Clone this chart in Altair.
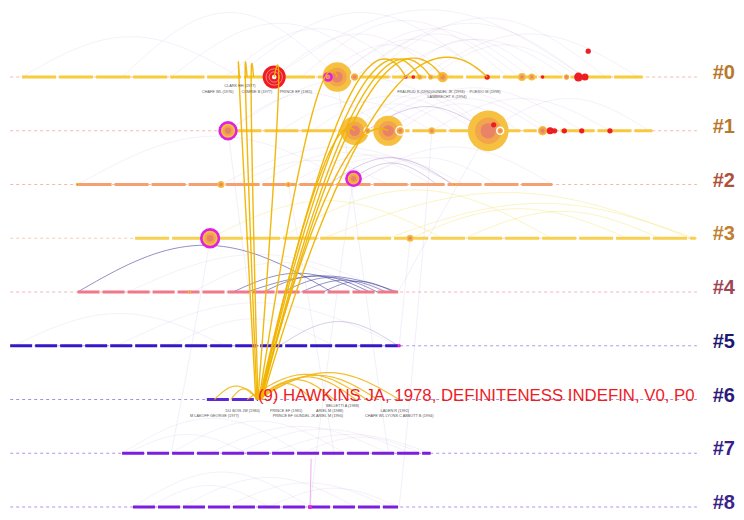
import altair as alt
import pandas as pd
import numpy as np

# ---------------- data ----------------
cluster_rows = [0, 1, 2, 3, 4, 5, 6, 7, 8]
cluster_labels = ["#0", "#1", "#2", "#3", "#4", "#5", "#6", "#7", "#8"]
label_colors = ["#b8782c", "#b8782c", "#b0503a", "#c08030", "#a04555",
                "#1c1870", "#2c1a78", "#3a1c88", "#3a2488"]
line_colors = ["#f8cc3a", "#f8c840", "#f4a070", "#f8d050", "#f07888",
               "#3418c8", "#5a28d8", "#7a1ee0", "#7a1ee0"]
base_colors = ["#f0a898", "#f0a898", "#f0a898", "#f0c0a0", "#f0a0b0",
               "#9088d8", "#8878d0", "#a078e0", "#a078e0"]
span_start = [1956.3, 1975.2, 1961.4, 1966.7, 1961.4, 1955.2, 1973.3, 1965.5, 1966.5]
span_end = [2013.4, 2014.3, 2005.1, 2018.3, 1990.9, 1990.9, 1978.0, 1993.9, 1990.9]
base_start = 1955.2
base_end = 2018.4

# nodes: year, row, citations, kind
node_year = [1979.5, 1985.3, 1984.45, 1986.5, 1986.9, 1991.6, 1992.3, 1992.9, 1993.9, 1995.0,
             1999.1, 2002.3, 2003.2, 2004.2, 2006.4, 2007.5, 2008.1, 2008.4,
             1975.25, 1986.9, 1988.1, 1990.0, 1991.1, 1994.0, 1999.2, 1999.7, 2000.3, 2004.2,
             2004.9, 2005.3, 2006.2, 2007.8, 2010.4,
             1961.4, 1974.6, 1980.8, 1986.8, 1996.1,
             1973.6, 1992.0,
             1971.7,
             1977.8, 1991.0,
             1982.8]
node_row = [0, 0, 0, 0, 0, 0, 0, 0, 0, 0,
            0, 0, 0, 0, 0, 0, 0, -0.48,
            1, 1, 1, 1, 1, 1, 1, 0.89, 1, 1,
            1, 1, 1, 1, 1,
            2, 2, 2, 1.89, 2,
            3, 3,
            4,
            5, 5,
            8]
node_cites = [19.2, 31.6, 1.8, 1.0, 2.8, 0.5, 0.5, 1.0, 1.0, 4.1,
              1.0, 2.3, 1.8, 0.45, 1.8, 2.8, 1.8, 1.0,
              10.2, 29.0, 1.8, 32.8, 2.8, 1.8, 60.0, 1.0, 1.8, 4.1,
              1.8, 1.0, 1.0, 1.0, 1.0,
              0.45, 1.8, 1.0, 7.3, 0.45,
              11.3, 1.8,
              0.45,
              0.45, 0.45,
              0.6]
node_kind = ["burst", "normal", "central", "normal", "ring", "mag", "burst", "normal", "normal", "normal",
             "burst", "normal", "normal", "burst", "ring", "burst", "burst", "burst",
             "central", "normal", "ring", "normal", "ring", "normal", "normal", "burst", "ring", "ring",
             "burst", "burst", "burst", "burst", "burst",
             "normal", "normal", "normal", "central", "normal",
             "central", "normal",
             "normal",
             "mag", "mag",
             "mag"]

# same-row arcs: (row, from year, to year, height in rows)
haze_arcs = [(0, 1956.3, 1976.3, 0.75), (0, 1965.5, 1985.3, 1.2), (0, 1975, 1992, 0.9),
             (0, 1979.5, 1995, 0.8), (0, 1976, 1999, 1.2), (0, 1985.3, 2003, 0.9),
             (0, 1986.9, 2008, 1.0), (0, 1990, 2006.4, 0.7), (0, 1979.5, 2008, 1.25),
             (0, 1992.9, 2013, 0.8), (0, 1985.3, 1999.1, 0.7), (0, 1993.9, 2007.5, 0.6),
             (0, 1982, 2001, 1.05), (0, 1988, 2010, 1.1), (0, 1970, 1990, 1.0),
             (0, 1984, 1996, 0.6), (0, 1987, 2002, 0.8), (0, 1991, 2004, 0.7),
             (1, 1975.25, 1999.2, 1.0), (1, 1986.9, 1999.2, 0.7), (1, 1990, 2004.2, 0.6),
             (1, 1988, 2007.8, 0.8), (1, 1975.25, 1990, 0.7), (1, 1994, 2010.4, 0.6),
             (1, 1999.2, 2014, 0.6), (1, 1980, 1994, 0.55), (1, 1986.9, 2005, 0.75),
             (1, 1983, 1998, 0.65), (1, 1991, 2002, 0.5), (1, 1985, 1996, 0.5),
             (2, 1961.4, 1986.8, 0.9), (2, 1974.6, 1996.1, 0.7), (2, 1980.8, 1996.1, 0.55),
             (2, 1986.8, 2000, 0.5), (2, 1982, 1997, 0.5), (2, 1986.8, 2005.1, 0.7),
             (2, 1976, 1990, 0.45), (2, 1978, 1994, 0.6),
             (4, 1966, 1990, 0.7), (4, 1972, 1988, 0.55),
             (5, 1955.5, 1975, 0.6), (5, 1965, 1990.9, 0.8),
             (5, 1970, 1985, 0.5),
             (7, 1965.5, 1982, 0.65), (7, 1970, 1986, 0.6), (7, 1973.5, 1990, 0.5),
             (7, 1976, 1992, 0.45), (7, 1979, 1993.9, 0.35), (7, 1966, 1977, 0.35),
             (7, 1982, 1993, 0.3),
             (8, 1966.5, 1982.8, 0.65), (8, 1971, 1987, 0.55), (8, 1975, 1990, 0.45),
             (8, 1979, 1990.9, 0.35), (8, 1968, 1979, 0.4)]
purple_arcs = [(2, 1984.5, 1995.9, 0.5), (2, 1986, 1994.5, 0.4), (1, 1988, 1999, 0.45),
               (5, 1980, 1990.9, 0.45)]
yellow_faint_arcs = [(3, 1984, 2017.8, 0.85), (3, 1990, 2018.2, 0.65), (3, 1992, 2012, 0.55),
                     (3, 1973.6, 1995, 0.7), (3, 1997, 2015, 0.5), (3, 1980, 2005, 0.9)]
blue_arcs = [(4, 1961.4, 1984.8, 0.87), (4, 1975.7, 1987.6, 0.35), (4, 1978.5, 1988.3, 0.3),
             (4, 1980.3, 1989, 0.27), (4, 1982, 1989.8, 0.22), (4, 1984, 1990.5, 0.2),
             (4, 1977, 1990.9, 0.3)]
hawkins_arcs = [(6, 1978, 1991, 0.5), (6, 1978, 1989, 0.45), (6, 1978, 1987, 0.42),
                (6, 1978, 1985, 0.37), (6, 1978, 1983, 0.3), (6, 1974, 1978, 0.25),
                (6, 1975.5, 1978, 0.2), (6, 1977, 1988, 0.47)]

# links between clusters: (from year, from row, control year, control row, to year, to row)
hawkins_links = [(1977.8, 6, 1975.8, -1.6, 1976.3, 0), (1977.9, 6, 1976.4, -1.6, 1977.0, 0),
                 (1978.0, 6, 1977.0, -1.5, 1977.6, 0), (1978.0, 6, 1980.8, -1.4, 1979.5, 0),
                 (1978.1, 6, 1983.5, -1.0, 1985.3, 0), (1978.2, 6, 1986.8, -1.8, 1991.6, 0),
                 (1978.2, 6, 1987.3, -1.8, 1992.9, 0), (1978.3, 6, 1987.8, -1.8, 1993.9, 0),
                 (1978.3, 6, 1988.3, -1.85, 1995.0, 0), (1978.4, 6, 1989.8, -1.9, 1999.1, 0),
                 (1978.1, 6, 1984.5, 0.4, 1986.9, 1), (1978.2, 6, 1985.5, 0.5, 1990.0, 1)]
faint_links = [(1975.25, 1, 1976.5, 3, 1977.8, 5), (1986.8, 1.89, 1984.5, 5, 1982.8, 8),
               (1985.3, 0, 1987.5, 3.5, 1990, 7), (1992.0, 3, 1991.5, 4, 1991.0, 5),
               (1980.8, 2, 1983, 4.5, 1985, 7), (1999.2, 1, 1995, 2.5, 1990.9, 4),
               (1973.6, 3, 1972, 5, 1970, 7), (1994, 1, 1993, 4, 1991, 8)]
magenta_links = [(1982.8, 8, 1982.85, 7.6, 1982.9, 7.1)]

# tiny node labels
lab_text = ["CLARK HH (1977)", "CHAFE WL (1976)", "COMRIE B (1977)", "PRINCE EF (1981)",
            "FRAURUD K (1990)", "GUNDEL JK (1993)", "LAMBRECHT K (1994)", "POESIO M (1998)",
            "BELLETTI A (1988)", "DU BOIS JW (1980)", "PRINCE EF (1981)", "ARIEL M (1988)",
            "LADEN R (1992)", "M LAKOFF GEORGE (1977)", "PRINCE EF GUNDEL JK ARIEL M (1990)",
            "CHAFE WL LYONS C ABBOTT B (1994)"]
lab_year = [1976.35, 1974.3, 1977.9, 1981.5, 1992.4, 1995.5, 1995.4, 1998.9,
            1985.8, 1976.6, 1980.6, 1984.6, 1990.6, 1974.0, 1982.6, 1991.0]
lab_row = [0.17, 0.27, 0.27, 0.27, 0.27, 0.27, 0.37, 0.27,
           6.13, 6.21, 6.21, 6.21, 6.21, 6.31, 6.31, 6.31]

hawkins_text = "(9) HAWKINS JA, 1978, DEFINITENESS INDEFIN, V0, P0"
hawkins_year = 1978.0
hawkins_row = 6

# ---------------- frames ----------------
clusters = pd.DataFrame({"row": cluster_rows, "label": cluster_labels, "lcolor": label_colors,
                         "color": line_colors, "bcolor": base_colors,
                         "start": span_start, "end": span_end,
                         "bstart": base_start, "bend": base_end, "lx": 2021.9})
nodes = pd.DataFrame({"year": node_year, "row": node_row, "cites": node_cites, "kind": node_kind})
labels = pd.DataFrame({"text": lab_text, "year": lab_year, "row": lab_row})


def arc_frame(arcs, n=41):
    recs = []
    t = np.linspace(0, 1, n)
    for i, (r, a, b, h) in enumerate(arcs):
        for k, tt in enumerate(t):
            recs.append({"id": i, "o": k, "year": a + (b - a) * tt,
                         "row": r - h * np.sin(np.pi * tt)})
    return pd.DataFrame(recs)


def bezier_frame(links, n=61):
    recs = []
    t = np.linspace(0, 1, n)
    for i, (x0, r0, cx, cr, x1, r1) in enumerate(links):
        for k, tt in enumerate(t):
            a, b, c = (1 - tt) ** 2, 2 * tt * (1 - tt), tt ** 2
            recs.append({"id": i, "o": k, "year": a * x0 + b * cx + c * x1,
                         "row": a * r0 + b * cr + c * r1})
    return pd.DataFrame(recs)


XS = alt.Scale(domain=[1955, 2022], nice=False, zero=False)
X = alt.X("year:Q", scale=XS, axis=None)
Y = alt.Y("row:Q", scale=alt.Scale(domain=[-1.284, 8.093], reverse=True, nice=False, zero=False),
          axis=None)
SIZE_SCALE = alt.Scale(domain=[0, 60], range=[0, 1660], zero=True)


def path_layer(df, color, opacity, width):
    return alt.Chart(df).mark_line(color=color, opacity=opacity, strokeWidth=width,
                                   interpolate="linear").encode(
        x=X, y=Y, detail="id:N", order="o:Q")


# baselines
baselines = alt.Chart(clusters).mark_rule(strokeWidth=1, strokeDash=[3, 3], opacity=0.8).encode(
    x=alt.X("bstart:Q", scale=XS, axis=None),
    x2="bend:Q", y=Y, color=alt.Color("bcolor:N", scale=None))

row_lines_top = alt.Chart(clusters).transform_filter("datum.row <= 3").mark_rule(
    strokeWidth=3, strokeDash=[34, 3]).encode(
    x=alt.X("start:Q", scale=XS, axis=None),
    x2="end:Q", y=Y, color=alt.Color("color:N", scale=None))
row_lines_bot = alt.Chart(clusters).transform_filter("datum.row > 3").mark_rule(
    strokeWidth=3.2, strokeDash=[22, 3]).encode(
    x=alt.X("start:Q", scale=XS, axis=None),
    x2="end:Q", y=Y, color=alt.Color("color:N", scale=None))

haze = path_layer(arc_frame(haze_arcs), "#b08ad0", 0.16, 0.8)
purple = path_layer(arc_frame(purple_arcs), "#8060b0", 0.35, 0.9)
yfaint = path_layer(arc_frame(yellow_faint_arcs), "#f4e060", 0.4, 0.9)
blue = path_layer(arc_frame(blue_arcs), "#4848a0", 0.6, 1.0)
flinks = path_layer(bezier_frame(faint_links), "#9a80d0", 0.18, 0.7)
mlinks = path_layer(bezier_frame(magenta_links), "#e070e0", 0.6, 1.0)
harcs = path_layer(arc_frame(hawkins_arcs), "#f2b81c", 0.9, 1.2)
hlinks = path_layer(bezier_frame(hawkins_links), "#f0b400", 0.95, 1.4)

tree_kinds = alt.FieldOneOfPredicate(field="kind", oneOf=["normal", "central", "ring"])

n_outer = alt.Chart(nodes).transform_filter(tree_kinds).mark_circle(
    color="#f6c040", opacity=1).encode(
    x=X, y=Y, size=alt.Size("cites:Q", scale=SIZE_SCALE, legend=None))
n_mid = alt.Chart(nodes).transform_filter(tree_kinds).transform_calculate(
    s="datum.cites * 0.42").mark_circle(color="#f2a24c", opacity=0.9).encode(
    x=X, y=Y, size=alt.Size("s:Q", scale=SIZE_SCALE, legend=None))
n_in = alt.Chart(nodes).transform_filter(tree_kinds).transform_calculate(
    s="datum.cites * 0.14").mark_circle(color="#e8806a", opacity=0.9).encode(
    x=X, y=Y, size=alt.Size("s:Q", scale=SIZE_SCALE, legend=None))
n_central = alt.Chart(nodes).transform_filter("datum.kind == 'central'").mark_point(
    shape="circle", filled=False, color="#e020e0", strokeWidth=2.6, opacity=1).encode(
    x=X, y=Y, size=alt.Size("cites:Q", scale=SIZE_SCALE, legend=None))
n_ring = alt.Chart(nodes).transform_filter("datum.kind == 'ring'").mark_point(
    shape="circle", filled=False, color="#ffffff", strokeWidth=1.3, opacity=1).encode(
    x=X, y=Y, size=alt.Size("cites:Q", scale=SIZE_SCALE, legend=None))
n_burst = alt.Chart(nodes).transform_filter("datum.kind == 'burst'").mark_circle(
    color="#ee1d23", opacity=1).encode(
    x=X, y=Y, size=alt.Size("cites:Q", scale=SIZE_SCALE, legend=None))
n_burst_ring = alt.Chart(nodes).transform_filter("datum.kind == 'burst' && datum.cites > 5").transform_calculate(
    s="datum.cites * 0.5").mark_point(shape="circle", filled=False, color="#ff8a8a",
                                      strokeWidth=1, opacity=0.9).encode(
    x=X, y=Y, size=alt.Size("s:Q", scale=SIZE_SCALE, legend=None))
n_burst_ring2 = alt.Chart(nodes).transform_filter("datum.kind == 'burst' && datum.cites > 5").transform_calculate(
    s="datum.cites * 0.2").mark_point(shape="circle", filled=False, color="#ff8a8a",
                                      strokeWidth=1, opacity=0.9).encode(
    x=X, y=Y, size=alt.Size("s:Q", scale=SIZE_SCALE, legend=None))
n_burst_c = alt.Chart(nodes).transform_filter("datum.kind == 'burst' && datum.cites > 5").transform_calculate(
    s="datum.cites * 0.04").mark_circle(color="#ffffff", opacity=1).encode(
    x=X, y=Y, size=alt.Size("s:Q", scale=SIZE_SCALE, legend=None))
n_mag = alt.Chart(nodes).transform_filter("datum.kind == 'mag'").mark_circle(
    color="#e020e0", opacity=1).encode(
    x=X, y=Y, size=alt.Size("cites:Q", scale=SIZE_SCALE, legend=None))

tiny = alt.Chart(labels).mark_text(fontSize=3.8, color="#555555", font="Liberation Sans",
                                   align="center", baseline="middle").encode(
    x=X, y=Y, text="text:N")

hawk = alt.Chart(pd.DataFrame({"year": [hawkins_year], "row": [hawkins_row],
                               "text": [hawkins_text]})).mark_text(
    fontSize=16.8, color="#ee1c25", font="Liberation Sans", align="left", baseline="middle",
    dy=-4).encode(x=X, y=Y, text="text:N")

clabels = alt.Chart(clusters).mark_text(fontSize=20, fontWeight="bold", font="Liberation Sans",
                                        align="right", baseline="middle", dy=-4).encode(
    x=alt.X("lx:Q", scale=XS, axis=None),
    y=Y, text="label:N", color=alt.Color("lcolor:N", scale=None))

chart = alt.layer(
    baselines, haze, purple, yfaint, flinks, blue, row_lines_top, row_lines_bot,
    n_outer, n_mid, n_in, n_central, n_ring, n_burst, n_burst_ring, n_burst_ring2, n_burst_c,
    n_mag, mlinks, harcs, hlinks, tiny, hawk, clabels
).properties(
    width=728, height=504, padding=0, background="white",
    autosize=alt.AutoSizeParams(type="none")
).configure_view(stroke=None)

chart.save("out.html", embed_options={"renderer": "svg", "actions": False})
